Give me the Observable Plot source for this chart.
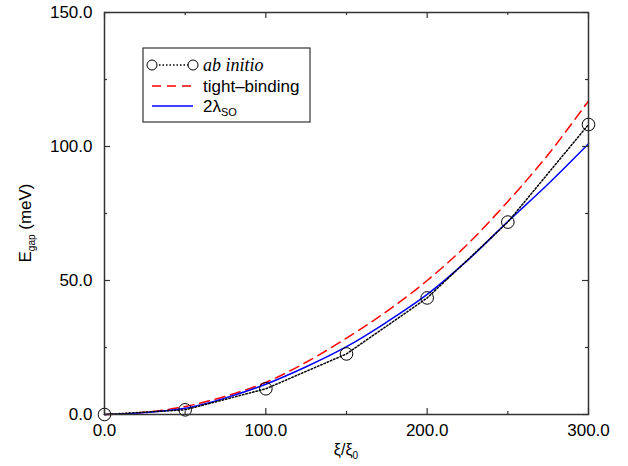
<!DOCTYPE html>
<html><head><meta charset="utf-8">
<script src="https://cdn.jsdelivr.net/npm/d3@7"></script>
<script src="https://cdn.jsdelivr.net/npm/@observablehq/plot@0.6"></script>
<style>body{margin:0;background:#fff} #chart{width:628px;height:466px}</style>
</head><body><div id="chart"></div>
<script>
// data
const xi = [0,25,50,75,100,125,150,175,200,225,250,275,300];
const tightBinding = [0,0.8,3,6.8,12,19.5,28.5,38.5,50,63.5,79.5,97,117];
const lambdaSO2 = [0,0.7,2.3,6.2,11.3,17.8,25.3,34.5,44.8,57.5,72,86,101];
const abInitioX = [0,50,100,150,200,250,300];
const abInitioY = [0,1.75,9.6,22.6,43.5,71.8,108.2];
const xMajor = [0,100,200,300], xMinor = [50,150,250];
const yMajor = [0,50,100,150], yMinor = [25,75,125];

const W = 628, H = 466, mL = 104, mR = 40, mT = 12, mB = 52;
const pw = W - mL - mR, ph = H - mT - mB;
const fmt = d => d.toFixed(1);
const axisColor = "#333";
const tickX = (data, len, side) => Plot.tickX(data, {x: d => d, stroke: axisColor, strokeWidth: 1.2,
  insetTop: side === "bottom" ? ph - len : 0, insetBottom: side === "top" ? ph - len : 0});
const tickY = (data, len, side) => Plot.tickY(data, {y: d => d, stroke: axisColor, strokeWidth: 1.2,
  insetRight: side === "left" ? pw - len : 0, insetLeft: side === "right" ? pw - len : 0});

const chart = Plot.plot({
  width: W, height: H, marginLeft: mL, marginRight: mR, marginTop: mT, marginBottom: mB,
  style: {fontFamily: "'Liberation Sans', Arial, sans-serif", fontSize: "17px", background: "#fff", color: "#000"},
  x: {domain: [0, 300], axis: null},
  y: {domain: [0, 150], axis: null},
  marks: [
    Plot.line(xi, {x: d => d, y: (d, i) => tightBinding[i], stroke: "#ff0000", strokeWidth: 1.5, strokeDasharray: "10,6", curve: "catmull-rom"}),
    Plot.line(xi, {x: d => d, y: (d, i) => lambdaSO2[i], stroke: "#0000ff", strokeWidth: 1.5, curve: "catmull-rom"}),
    Plot.line(abInitioX, {x: d => d, y: (d, i) => abInitioY[i], stroke: "#000", strokeWidth: 1.5, strokeDasharray: "1.5,2"}),
    Plot.dot(abInitioX, {x: d => d, y: (d, i) => abInitioY[i], r: 6.3, stroke: "#000", strokeWidth: 1, fill: "none"}),
    tickX(xMajor, 6, "bottom"), tickX(xMinor, 3, "bottom"),
    tickX(xMajor, 6, "top"), tickX(xMinor, 3, "top"),
    tickY(yMajor, 6, "left"), tickY(yMinor, 3, "left"),
    tickY(yMajor, 6, "right"), tickY(yMinor, 3, "right"),
    Plot.frame({stroke: axisColor, strokeWidth: 1.5}),
    Plot.axisX({ticks: xMajor, tickSize: 0, tickPadding: 9, tickFormat: fmt, label: null}),
    Plot.axisY({ticks: yMajor, tickSize: 0, tickPadding: 12, tickFormat: fmt, label: null})
  ]
});
document.getElementById("chart").append(chart);

const svg = d3.select(chart);
const ff = "'Liberation Sans', Arial, sans-serif";
// axis labels
const xl = svg.append("text").attr("x", mL + pw / 2).attr("y", 455).attr("text-anchor", "middle")
  .attr("font-family", ff).attr("font-size", 16).attr("fill", "#000");
xl.append("tspan").text("ξ/ξ");
xl.append("tspan").attr("dy", 4).attr("font-size", 10).text("0");

const yl = svg.append("text").attr("transform", `translate(31,${mT + ph / 2 + 10}) rotate(-90)`).attr("text-anchor", "middle")
  .attr("font-family", ff).attr("font-size", 17).attr("fill", "#000");
yl.append("tspan").text("E");
yl.append("tspan").attr("dy", 4).attr("font-size", 10).text("gap");
yl.append("tspan").attr("dy", -4).attr("font-size", 17).text(" (meV)");

// legend
const lg = svg.append("g").attr("font-family", ff).attr("font-size", 17).attr("text-anchor", "start").attr("fill", "#000");
lg.append("rect").attr("x", 143).attr("y", 48).attr("width", 167).attr("height", 74)
  .attr("fill", "#fff").attr("stroke", axisColor).attr("stroke-width", 1.2);
const x1 = 152, x2 = 193, tx = 203;
const rows = [65, 86, 106];
lg.append("line").attr("x1", x1).attr("x2", x2).attr("y1", rows[0]).attr("y2", rows[0])
  .attr("stroke", "#000").attr("stroke-width", 1.5).attr("stroke-dasharray", "1.5,2");
[x1, x2].forEach(cx => lg.append("circle").attr("cx", cx).attr("cy", rows[0]).attr("r", 5)
  .attr("fill", "#fff").attr("stroke", "#000"));
lg.append("text").attr("x", tx).attr("y", rows[0] + 6).attr("text-anchor", "start").attr("font-family", "'Liberation Serif', 'Times New Roman', serif")
  .attr("font-style", "italic").attr("font-size", 18).text("ab initio");
lg.append("line").attr("x1", x1).attr("x2", x2).attr("y1", rows[1]).attr("y2", rows[1])
  .attr("stroke", "#ff0000").attr("stroke-width", 1.5).attr("stroke-dasharray", "9,6");
lg.append("text").attr("x", tx).attr("y", rows[1] + 6).attr("text-anchor", "start").text("tight–binding");
lg.append("line").attr("x1", x1).attr("x2", x2).attr("y1", rows[2]).attr("y2", rows[2])
  .attr("stroke", "#0000ff").attr("stroke-width", 1.5);
const t3 = lg.append("text").attr("x", tx).attr("y", rows[2] + 6).attr("text-anchor", "start");
t3.append("tspan").text("2λ");
t3.append("tspan").attr("dy", 4).attr("font-size", 11).text("SO");
</script>
</body></html>
